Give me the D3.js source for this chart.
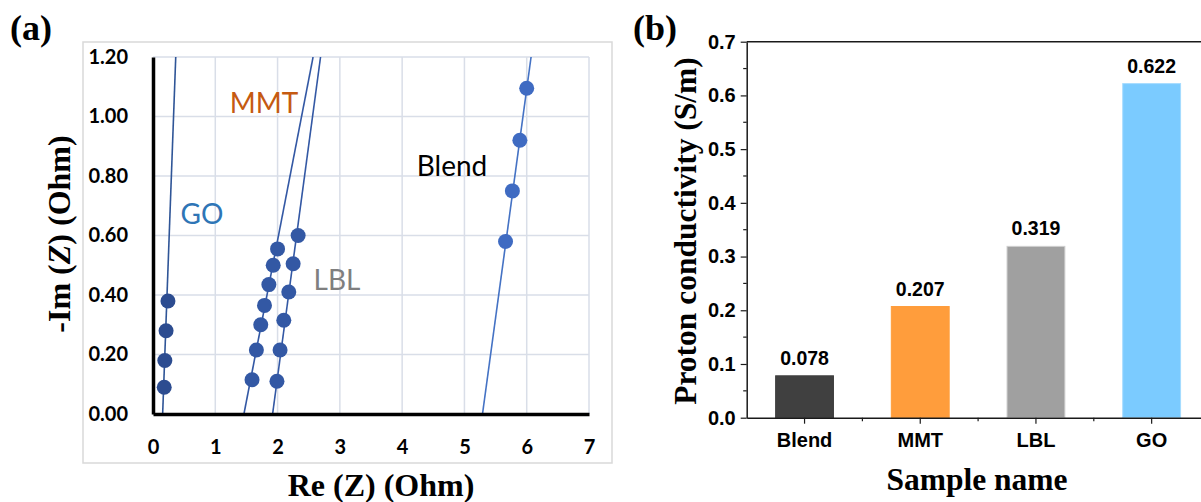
<!DOCTYPE html>
<html>
<head>
<meta charset="utf-8">
<script src="https://cdn.jsdelivr.net/npm/d3@7"></script>
<style>
  body { margin: 0; background: #fff; }
  svg { display: block; }
</style>
</head>
<body>
<div id="chart"></div>
<script>
// ---- panel (a) data: Nyquist points ----
const goRe = [0.24, 0.21, 0.19, 0.18];
const goIm = [0.38, 0.28, 0.18, 0.09];
const mmtRe = [2.00, 1.93, 1.86, 1.79, 1.73, 1.66, 1.59];
const mmtIm = [0.555, 0.50, 0.435, 0.365, 0.30, 0.215, 0.115];
const lblRe = [2.33, 2.25, 2.18, 2.10, 2.04, 1.99];
const lblIm = [0.60, 0.505, 0.41, 0.315, 0.215, 0.11];
const blendRe = [6.00, 5.89, 5.77, 5.66];
const blendIm = [1.095, 0.92, 0.75, 0.58];

// linear trendlines: Re at Im = 0 and at Im = 1.2
const fitNames = ["GO", "MMT", "LBL", "Blend"];
const fitReAt0 = [0.155, 1.46, 1.92, 5.29];
const fitReAtTop = [0.365, 2.57, 2.69, 6.07];

const xTicksA = [0, 1, 2, 3, 4, 5, 6, 7];
const yTicksA = [0, 0.2, 0.4, 0.6, 0.8, 1.0, 1.2];

// ---- panel (b) data ----
const samples = ["Blend", "MMT", "LBL", "GO"];
const conductivity = [0.078, 0.207, 0.319, 0.622];
const yTicksB = [0, 0.1, 0.2, 0.3, 0.4, 0.5, 0.6, 0.7];

const svg = d3.select("#chart").append("svg")
    .attr("width", 1201)
    .attr("height", 502);

// ================= panel (a) =================
const xA = d3.scaleLinear().domain([0, 7]).range([153, 589]);
const yA = d3.scaleLinear().domain([0, 1.2]).range([414, 57]);
const gridColor = "#d9dee8";

// chart area border
svg.append("rect")
    .attr("x", 83).attr("y", 42)
    .attr("width", 529).attr("height", 421)
    .attr("fill", "none")
    .attr("stroke", "#d9d9d9")
    .attr("stroke-width", 1.5);

// gridlines
svg.append("g").selectAll("line")
    .data(yTicksA.slice(1))
    .join("line")
    .attr("x1", xA(0)).attr("x2", xA(7))
    .attr("y1", d => yA(d)).attr("y2", d => yA(d))
    .attr("stroke", gridColor).attr("stroke-width", 1.5);
svg.append("g").selectAll("line")
    .data(xTicksA.slice(1))
    .join("line")
    .attr("x1", d => xA(d)).attr("x2", d => xA(d))
    .attr("y1", yA(0)).attr("y2", yA(1.2))
    .attr("stroke", gridColor).attr("stroke-width", 1.5);

// clip for trendlines
svg.append("clipPath").attr("id", "clipA")
    .append("rect")
    .attr("x", xA(0)).attr("y", yA(1.2))
    .attr("width", xA(7) - xA(0)).attr("height", yA(0) - yA(1.2));

const lineColors = ["#2f5597", "#3358a4", "#3358a4", "#4472c4"];
svg.append("g").attr("clip-path", "url(#clipA)")
    .selectAll("line")
    .data(fitNames)
    .join("line")
    .attr("x1", (d, i) => xA(fitReAt0[i]))
    .attr("y1", yA(0))
    .attr("x2", (d, i) => xA(fitReAtTop[i]))
    .attr("y2", yA(1.2))
    .attr("stroke", (d, i) => lineColors[i])
    .attr("stroke-width", 1.6);

// markers
const seriesA = [
    { re: goRe, im: goIm, color: "#2c4c90" },
    { re: mmtRe, im: mmtIm, color: "#3358a4" },
    { re: lblRe, im: lblIm, color: "#3358a4" },
    { re: blendRe, im: blendIm, color: "#3f6bc2" }
];
seriesA.forEach(s => {
    svg.append("g").selectAll("circle")
        .data(s.re.map((r, i) => [r, s.im[i]]))
        .join("circle")
        .attr("cx", d => xA(d[0]))
        .attr("cy", d => yA(d[1]))
        .attr("r", 7.5)
        .attr("fill", s.color);
});

// axes (thick black lines)
const yAxisA = svg.append("g")
    .attr("transform", `translate(${xA(0)},0)`)
    .call(d3.axisLeft(yA).tickValues(yTicksA).tickFormat(d3.format(".2f"))
        .tickSize(0).tickPadding(25));
const xAxisA = svg.append("g")
    .attr("transform", `translate(0,${yA(0)})`)
    .call(d3.axisBottom(xA).tickValues(xTicksA).tickFormat(d3.format("d"))
        .tickSize(0).tickPadding(26));
[yAxisA, xAxisA].forEach(g => {
    g.select(".domain").attr("stroke", "#000").attr("stroke-width", 3.5);
    g.selectAll("text")
        .attr("font-family", "Lato, 'Open Sans', sans-serif")
        .attr("font-weight", "bold")
        .attr("font-size", 20)
        .attr("fill", "#000");
});

// series labels
const seriesLabels = [
    { t: "GO", x: 202, y: 224, c: "#2e75b6" },
    { t: "MMT", x: 264, y: 113, c: "#c55a11" },
    { t: "LBL", x: 337, y: 290, c: "#7f7f7f" },
    { t: "Blend", x: 452, y: 176, c: "#000" }
];
svg.append("g").selectAll("text")
    .data(seriesLabels)
    .join("text")
    .attr("x", d => d.x).attr("y", d => d.y)
    .attr("text-anchor", "middle")
    .attr("font-family", "Lato, 'Open Sans', sans-serif")
    .attr("font-size", 28)
    .attr("fill", d => d.c)
    .text(d => d.t);

// axis titles
const titleFont = "'Liberation Serif', 'Times New Roman', serif";
const yTitleA = svg.append("text")
    .attr("transform", "translate(70,234) rotate(-90)")
    .attr("text-anchor", "middle")
    .attr("font-family", titleFont)
    .attr("font-weight", "bold")
    .attr("font-size", 32);
yTitleA.append("tspan").text("-Im (");
yTitleA.append("tspan").attr("font-style", "italic").text("Z");
yTitleA.append("tspan").text(") (Ohm)");

svg.append("text")
    .attr("x", 381).attr("y", 496)
    .attr("text-anchor", "middle")
    .attr("font-family", titleFont)
    .attr("font-weight", "bold")
    .attr("font-size", 32)
    .text("Re (Z) (Ohm)");

svg.append("text")
    .attr("x", 10).attr("y", 40)
    .attr("font-family", titleFont)
    .attr("font-weight", "bold")
    .attr("font-size", 36)
    .text("(a)");

// ================= panel (b) =================
const xB = d3.scaleBand().domain(samples).range([746.7, 1209.5])
    .paddingInner(0.5).paddingOuter(0.25);
const yB = d3.scaleLinear().domain([0, 0.7]).range([417.7, 41.7]);
const barColors = ["#404040", "#ff9d3c", "#a0a0a0", "#7bcbff"];
const barStrokes = ["#404040", "#ff9d3c", "#cfcfcf", "#a6dcff"];
const axisColor = "#1a1a1a";
const labelFont = "'Liberation Sans', Arial, sans-serif";

svg.append("g").selectAll("rect")
    .data(samples)
    .join("rect")
    .attr("x", d => xB(d))
    .attr("y", (d, i) => yB(conductivity[i]))
    .attr("width", xB.bandwidth())
    .attr("height", (d, i) => yB(0) - yB(conductivity[i]))
    .attr("fill", (d, i) => barColors[i])
    .attr("stroke", (d, i) => barStrokes[i])
    .attr("stroke-width", 1);

// value labels
svg.append("g").selectAll("text")
    .data(samples)
    .join("text")
    .attr("x", d => xB(d) + xB.bandwidth() / 2)
    .attr("y", (d, i) => yB(conductivity[i]) - 11)
    .attr("text-anchor", "middle")
    .attr("font-family", labelFont)
    .attr("font-weight", "bold")
    .attr("font-size", 19.5)
    .text((d, i) => d3.format(".3f")(conductivity[i]));

// top frame line
svg.append("line")
    .attr("x1", xB.range()[0]).attr("x2", xB.range()[1])
    .attr("y1", yB(0.7)).attr("y2", yB(0.7))
    .attr("stroke", axisColor).attr("stroke-width", 1.5);

// left axis with minor ticks
const minorY = d3.range(0.05, 0.7, 0.1);
svg.append("g").selectAll("line")
    .data(minorY)
    .join("line")
    .attr("x1", xB.range()[0] - 3.5).attr("x2", xB.range()[0])
    .attr("y1", d => yB(d)).attr("y2", d => yB(d))
    .attr("stroke", axisColor).attr("stroke-width", 1.2);
const yAxisB = svg.append("g")
    .attr("transform", `translate(${xB.range()[0]},0)`)
    .call(d3.axisLeft(yB).tickValues(yTicksB).tickFormat(d3.format(".1f"))
        .tickSize(6).tickSizeOuter(0).tickPadding(5));

// bottom axis with minor ticks at category boundaries
svg.append("g").selectAll("line")
    .data(samples.slice(1))
    .join("line")
    .attr("x1", d => xB(d) - (xB.step() - xB.bandwidth()) / 2)
    .attr("x2", d => xB(d) - (xB.step() - xB.bandwidth()) / 2)
    .attr("y1", yB(0)).attr("y2", yB(0) + 3.5)
    .attr("stroke", axisColor).attr("stroke-width", 1.2);
const xAxisB = svg.append("g")
    .attr("transform", `translate(0,${yB(0)})`)
    .call(d3.axisBottom(xB).tickSize(6).tickSizeOuter(0).tickPadding(9));

[yAxisB, xAxisB].forEach(g => {
    g.select(".domain").attr("stroke", axisColor).attr("stroke-width", 1.5);
    g.selectAll(".tick line").attr("stroke", axisColor).attr("stroke-width", 1.2);
    g.selectAll("text")
        .attr("font-family", labelFont)
        .attr("font-weight", "bold")
        .attr("font-size", 20)
        .attr("fill", "#000");
});

svg.append("text")
    .attr("transform", "translate(696,231) rotate(-90)")
    .attr("text-anchor", "middle")
    .attr("font-family", titleFont)
    .attr("font-weight", "bold")
    .attr("font-size", 31.5)
    .text("Proton conductivity (S/m)");

svg.append("text")
    .attr("x", 977).attr("y", 490)
    .attr("text-anchor", "middle")
    .attr("font-family", titleFont)
    .attr("font-weight", "bold")
    .attr("font-size", 31.5)
    .text("Sample name");

svg.append("text")
    .attr("x", 633).attr("y", 40)
    .attr("font-family", titleFont)
    .attr("font-weight", "bold")
    .attr("font-size", 36)
    .text("(b)");
</script>
</body>
</html>
